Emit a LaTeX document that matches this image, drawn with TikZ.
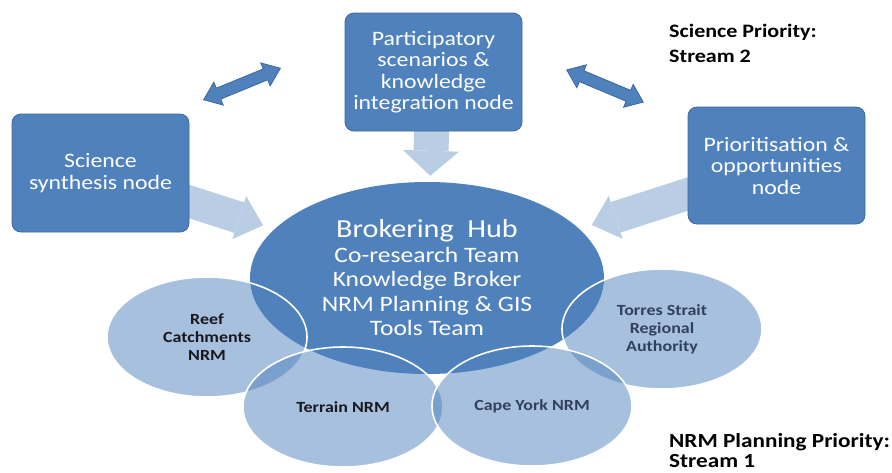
\documentclass[tikz,border=0pt]{standalone}
\usepackage{fontspec}
\setmainfont{Carlito}[FakeStretch=1.16]
\usepackage{tikz}
\usetikzlibrary{arrows.meta, % if the figure contains arrow-tips
                shapes.geometric,
                shapes.arrows,
                backgrounds,positioning}

\definecolor{boxblue}{RGB}{79,129,189}
\definecolor{edgeblue}{RGB}{62,104,156}
\definecolor{paleblue}{RGB}{185,205,228}
\definecolor{darktext}{RGB}{24,24,30}
\definecolor{slatetext}{RGB}{50,64,94}

\begin{document}
\begin{tikzpicture}[x=1pt, y=-1pt,
		nodebox/.style={draw=edgeblue, line width=0.8pt, fill=boxblue, rounded corners=9pt, text=white,
			align=center, minimum width=177pt, minimum height=118pt, inner sep=0pt,
			font=\fontsize{20.5}{21.5}\selectfont},
		hubnode/.style={ellipse, fill=boxblue, minimum width=354pt, minimum height=192pt, inner sep=0pt,
			text=white, align=center, font=\fontsize{22}{24.5}\selectfont},
		regionnode/.style={ellipse, fill=boxblue, fill opacity=0.5, text opacity=1, draw=white, draw opacity=1,
			line width=1.6pt, minimum width=200pt, minimum height=120pt, inner sep=0pt, align=center,
			font=\bfseries\fontsize{15.5}{18}\selectfont},
		flowarrow/.style={draw=paleblue, line width=32pt, -{Triangle[length=25pt, width=45pt, line width=0pt]}},
		linkarrow/.style={double arrow, draw=edgeblue, line width=0.8pt, fill=boxblue, minimum height=83pt,
			minimum width=24pt, double arrow head extend=6.5pt, double arrow tip angle=75,
			inner xsep=0pt, inner ysep=5.5pt},
		priority/.style={anchor=north west, inner sep=0pt, align=left}]

		\useasboundingbox (0,0) rectangle (892,472);

		% Nodes
		\node[hubnode] (hub) at (427,278) {{\fontsize{26}{24.5}\selectfont Brokering\ \ Hub}\\Co-research Team\\Knowledge Broker\\NRM Planning \& GIS\\Tools Team};
		\node[nodebox] (pk) at (433.5,72) {Participatory\\scenarios \&\\knowledge\\integration node};
		\node[nodebox] (ss) at (100.5,173) {Science\\synthesis node};
		\node[nodebox, minimum height=117pt] (po) at (776.5,165.5) {Prioritisation \&\\opportunities\\node};
		\node[regionnode, text=darktext] (reef) at (207,337) {Reef\\Catchments\\NRM};
		\node[regionnode, text=slatetext] (torres) at (662,329) {Torres Strait\\Regional\\Authority};
		\node[regionnode, text=darktext] (terrain) at (343,407) {Terrain NRM};
		\node[regionnode, text=slatetext] (cape) at (532,406) {Cape York NRM};
		\node[linkarrow, rotate=22.3] (lkl) at (242,84) {};
		\node[linkarrow, rotate=-22.8] (lkr) at (605,86) {};
		\node[priority, font=\bfseries\fontsize{19}{25}\selectfont] (sp) at (669,24) {Science Priority:\\Stream 2};
		\node[priority, font=\bfseries\fontsize{20}{20.5}\selectfont] (np) at (669,433) {NRM Planning Priority:\\Stream 1};

		% Edges
		\begin{scope}[on background layer]
			\draw[flowarrow, line width=35pt, -{Triangle[length=25pt, width=56pt, line width=0pt]}, shorten >=6pt] (pk.center) -- (hub);
			\draw[flowarrow, shorten >=12pt] (ss.center) -- (hub);
			\draw[flowarrow, shorten >=13pt] (po.center) -- (hub);
		\end{scope}
	\end{tikzpicture}
\end{document}
